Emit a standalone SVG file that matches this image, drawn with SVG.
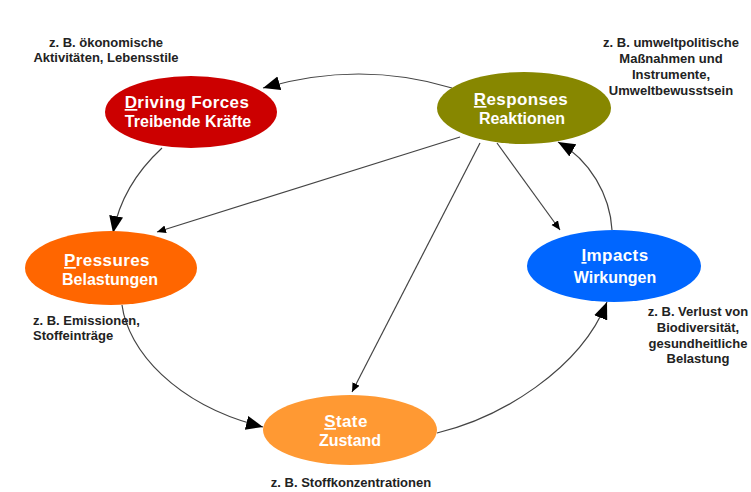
<svg xmlns="http://www.w3.org/2000/svg" width="751" height="492" viewBox="0 0 751 492">
<style>
.lbl{font-family:"Liberation Sans",Arial,sans-serif;font-weight:bold;fill:#fff;text-anchor:middle}
.l1{font-size:17px;letter-spacing:0.4px}
.l2{font-size:16px}
.note{font-family:"Liberation Sans",Arial,sans-serif;font-weight:bold;font-size:13px;fill:#222;text-anchor:middle}
.con{fill:none;stroke:#444;stroke-width:1.2}
</style>
<defs>
<marker id="big" markerWidth="18" markerHeight="16" refX="17" refY="7" orient="auto" markerUnits="userSpaceOnUse"><path d="M0,0 L17,7 L0,14 z" fill="#000"/></marker>
<marker id="small" markerWidth="10" markerHeight="9" refX="9" refY="4" orient="auto" markerUnits="userSpaceOnUse"><path d="M0,0 L9,4 L0,8 z" fill="#000"/></marker>
</defs>
<rect width="751" height="492" fill="#fff"/>
<g id="connectors">
<path class="con" d="M452,88 Q360,60 263,88" marker-end="url(#big)"/>
<path class="con" d="M162,148 Q122,185 113,233" marker-end="url(#big)"/>
<path class="con" d="M122,305 C128,350 175,405 263,427" marker-end="url(#big)"/>
<path class="con" d="M437,433 C500,418 580,370 607,302" marker-end="url(#big)"/>
<path class="con" d="M612,230 C610,195 590,160 558,142" marker-end="url(#big)"/>
<path class="con" d="M460,137 L157,232" marker-end="url(#small)"/>
<path class="con" d="M480,143 L352,392" marker-end="url(#small)"/>
<path class="con" d="M497,143 L560,230" marker-end="url(#small)"/>
</g>
<g id="driving">
<ellipse cx="191" cy="112" rx="86" ry="36" fill="#cc0000"/>
<text class="lbl l1" x="187" y="108"><tspan text-decoration="underline">D</tspan>riving Forces</text>
<text class="lbl l2" x="188" y="127">Treibende Kräfte</text>
</g>
<g id="responses">
<ellipse cx="524" cy="108" rx="87" ry="36" fill="#878700"/>
<text class="lbl l1" x="521" y="105"><tspan text-decoration="underline">R</tspan>esponses</text>
<text class="lbl l2" x="522" y="124">Reaktionen</text>
</g>
<g id="pressures">
<ellipse cx="111" cy="268" rx="86" ry="37" fill="#ff6600"/>
<text class="lbl l1" x="107" y="266"><tspan text-decoration="underline">P</tspan>ressures</text>
<text class="lbl l2" x="110" y="285">Belastungen</text>
</g>
<g id="impacts">
<ellipse cx="614" cy="266" rx="87" ry="36" fill="#0066ff"/>
<text class="lbl l1" x="615" y="261"><tspan text-decoration="underline">I</tspan>mpacts</text>
<text class="lbl l2" x="615" y="283">Wirkungen</text>
</g>
<g id="state">
<ellipse cx="350" cy="430" rx="87" ry="35" fill="#ff9933"/>
<text class="lbl l1" x="346" y="427"><tspan text-decoration="underline">S</tspan>tate</text>
<text class="lbl l2" x="350" y="446">Zustand</text>
</g>
<g id="notes">
<text class="note" x="106" y="47">z. B. ökonomische</text>
<text class="note" x="106" y="62">Aktivitäten, Lebensstile</text>
<text class="note" x="671" y="47">z. B. umweltpolitische</text>
<text class="note" x="671" y="63">Maßnahmen und</text>
<text class="note" x="671" y="79">Instrumente,</text>
<text class="note" x="671" y="95">Umweltbewusstsein</text>
<text class="note" x="698" y="316">z. B. Verlust von</text>
<text class="note" x="698" y="332">Biodiversität,</text>
<text class="note" x="698" y="348">gesundheitliche</text>
<text class="note" x="698" y="363">Belastung</text>
<text class="note" x="33" y="325" style="text-anchor:start">z. B. Emissionen,</text>
<text class="note" x="33" y="340" style="text-anchor:start">Stoffeinträge</text>
<text class="note" x="351" y="487">z. B. Stoffkonzentrationen</text>
</g>
</svg>
